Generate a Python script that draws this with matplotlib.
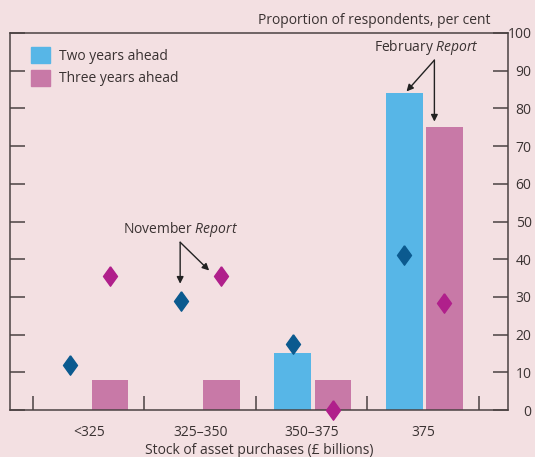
import matplotlib.pyplot as plt
from matplotlib.patches import Patch
import numpy as np

plt.rcParams['font.family'] = ['Open Sans', 'DejaVu Sans']
plt.rcParams['mathtext.fontset'] = 'custom'
plt.rcParams['mathtext.rm'] = 'Open Sans'
plt.rcParams['mathtext.it'] = 'Open Sans:italic'

categories = ['<325', '325–350', '350–375', '375']
two_years_feb = [0, 0, 15, 84]
three_years_feb = [8, 8, 8, 75]
two_years_nov = [12, 29, 17.5, 41]
three_years_nov = [35.5, 35.5, 0, 28.5]

bg = '#f3e0e2'
blue = '#57b6e7'
pink = '#c879a7'
dblue = '#0b5a8f'
magenta = '#b01f8b'
ink = '#3a3232'

fig = plt.figure(figsize=(5.35, 4.57), dpi=100, facecolor=bg)
ax = fig.add_axes([0.0187, 0.1028, 0.9308, 0.825], facecolor=bg)

x = np.arange(len(categories))
w = 0.33
xb = x - 0.17
xp = x + 0.19
ax.bar(xb, two_years_feb, w, color=blue, zorder=2)
ax.bar(xp, three_years_feb, w, color=pink, zorder=2)

diamond = [(0, 1), (0.72, 0), (0, -1), (-0.72, 0), (0, 1)]
ax.plot(xb, two_years_nov, ls='none', marker=diamond, ms=14,
        color=dblue, zorder=3, clip_on=False)
ax.plot(xp, three_years_nov, ls='none', marker=diamond, ms=14,
        color=magenta, zorder=3, clip_on=False)

ax.set_xlim(-0.706, 3.76)
ax.set_ylim(0, 100)

for s in ax.spines.values():
    s.set_color('#4a4242')
    s.set_linewidth(1.1)

ax.set_yticks(np.arange(0, 101, 10))
ax.tick_params(axis='y', left=True, right=True, labelleft=False,
               labelright=True, direction='in', length=11, width=1.1,
               color='#4a4242', labelcolor=ink, labelsize=10, pad=17)
for lab in ax.get_yticklabels():
    lab.set_ha('right')
ax.set_xticks(x)
ax.set_xticklabels(categories)
ax.tick_params(axis='x', length=0, labelsize=10, labelcolor=ink, pad=11)
ax.set_xticks(np.arange(-0.5, 4, 1), minor=True)
ax.tick_params(axis='x', which='minor', direction='in', length=10,
               width=1.1, color='#4a4242')
ax.set_xlabel('Stock of asset purchases (£ billions)', fontsize=10,
              color=ink, labelpad=2)

fig.text(0.916, 0.955, 'Proportion of respondents, per cent', ha='right',
         va='center', fontsize=10, color=ink)

handles = [Patch(color=blue), Patch(color=pink)]
ax.legend(handles, ['Two years ahead', 'Three years ahead'],
          loc='upper left', bbox_to_anchor=(0.018, 0.995), frameon=False,
          fontsize=10, handlelength=1.35, handleheight=1.35,
          handletextpad=0.6, labelspacing=0.45, borderaxespad=0.5,
          labelcolor=ink)

arrow = dict(arrowstyle='-|>', color='#222222', lw=1, mutation_scale=10,
             shrinkA=0, shrinkB=0)
ax.text(0.82, 47.8, 'November $\\mathit{Report}$', ha='center', va='center',
        fontsize=10, color=ink)
ax.annotate('', xy=(0.82, 33.5), xytext=(0.82, 44.5), arrowprops=arrow)
ax.annotate('', xy=(1.08, 37), xytext=(0.82, 44.5), arrowprops=arrow)

ax.text(3.03, 96.2, 'February $\\mathit{Report}$', ha='center', va='center',
        fontsize=10, color=ink)
ax.annotate('', xy=(2.85, 84.5), xytext=(3.1, 92.8), arrowprops=arrow)
ax.annotate('', xy=(3.1, 76.5), xytext=(3.1, 92.8), arrowprops=arrow)

fig.savefig('out.png', dpi=100, facecolor=bg)
